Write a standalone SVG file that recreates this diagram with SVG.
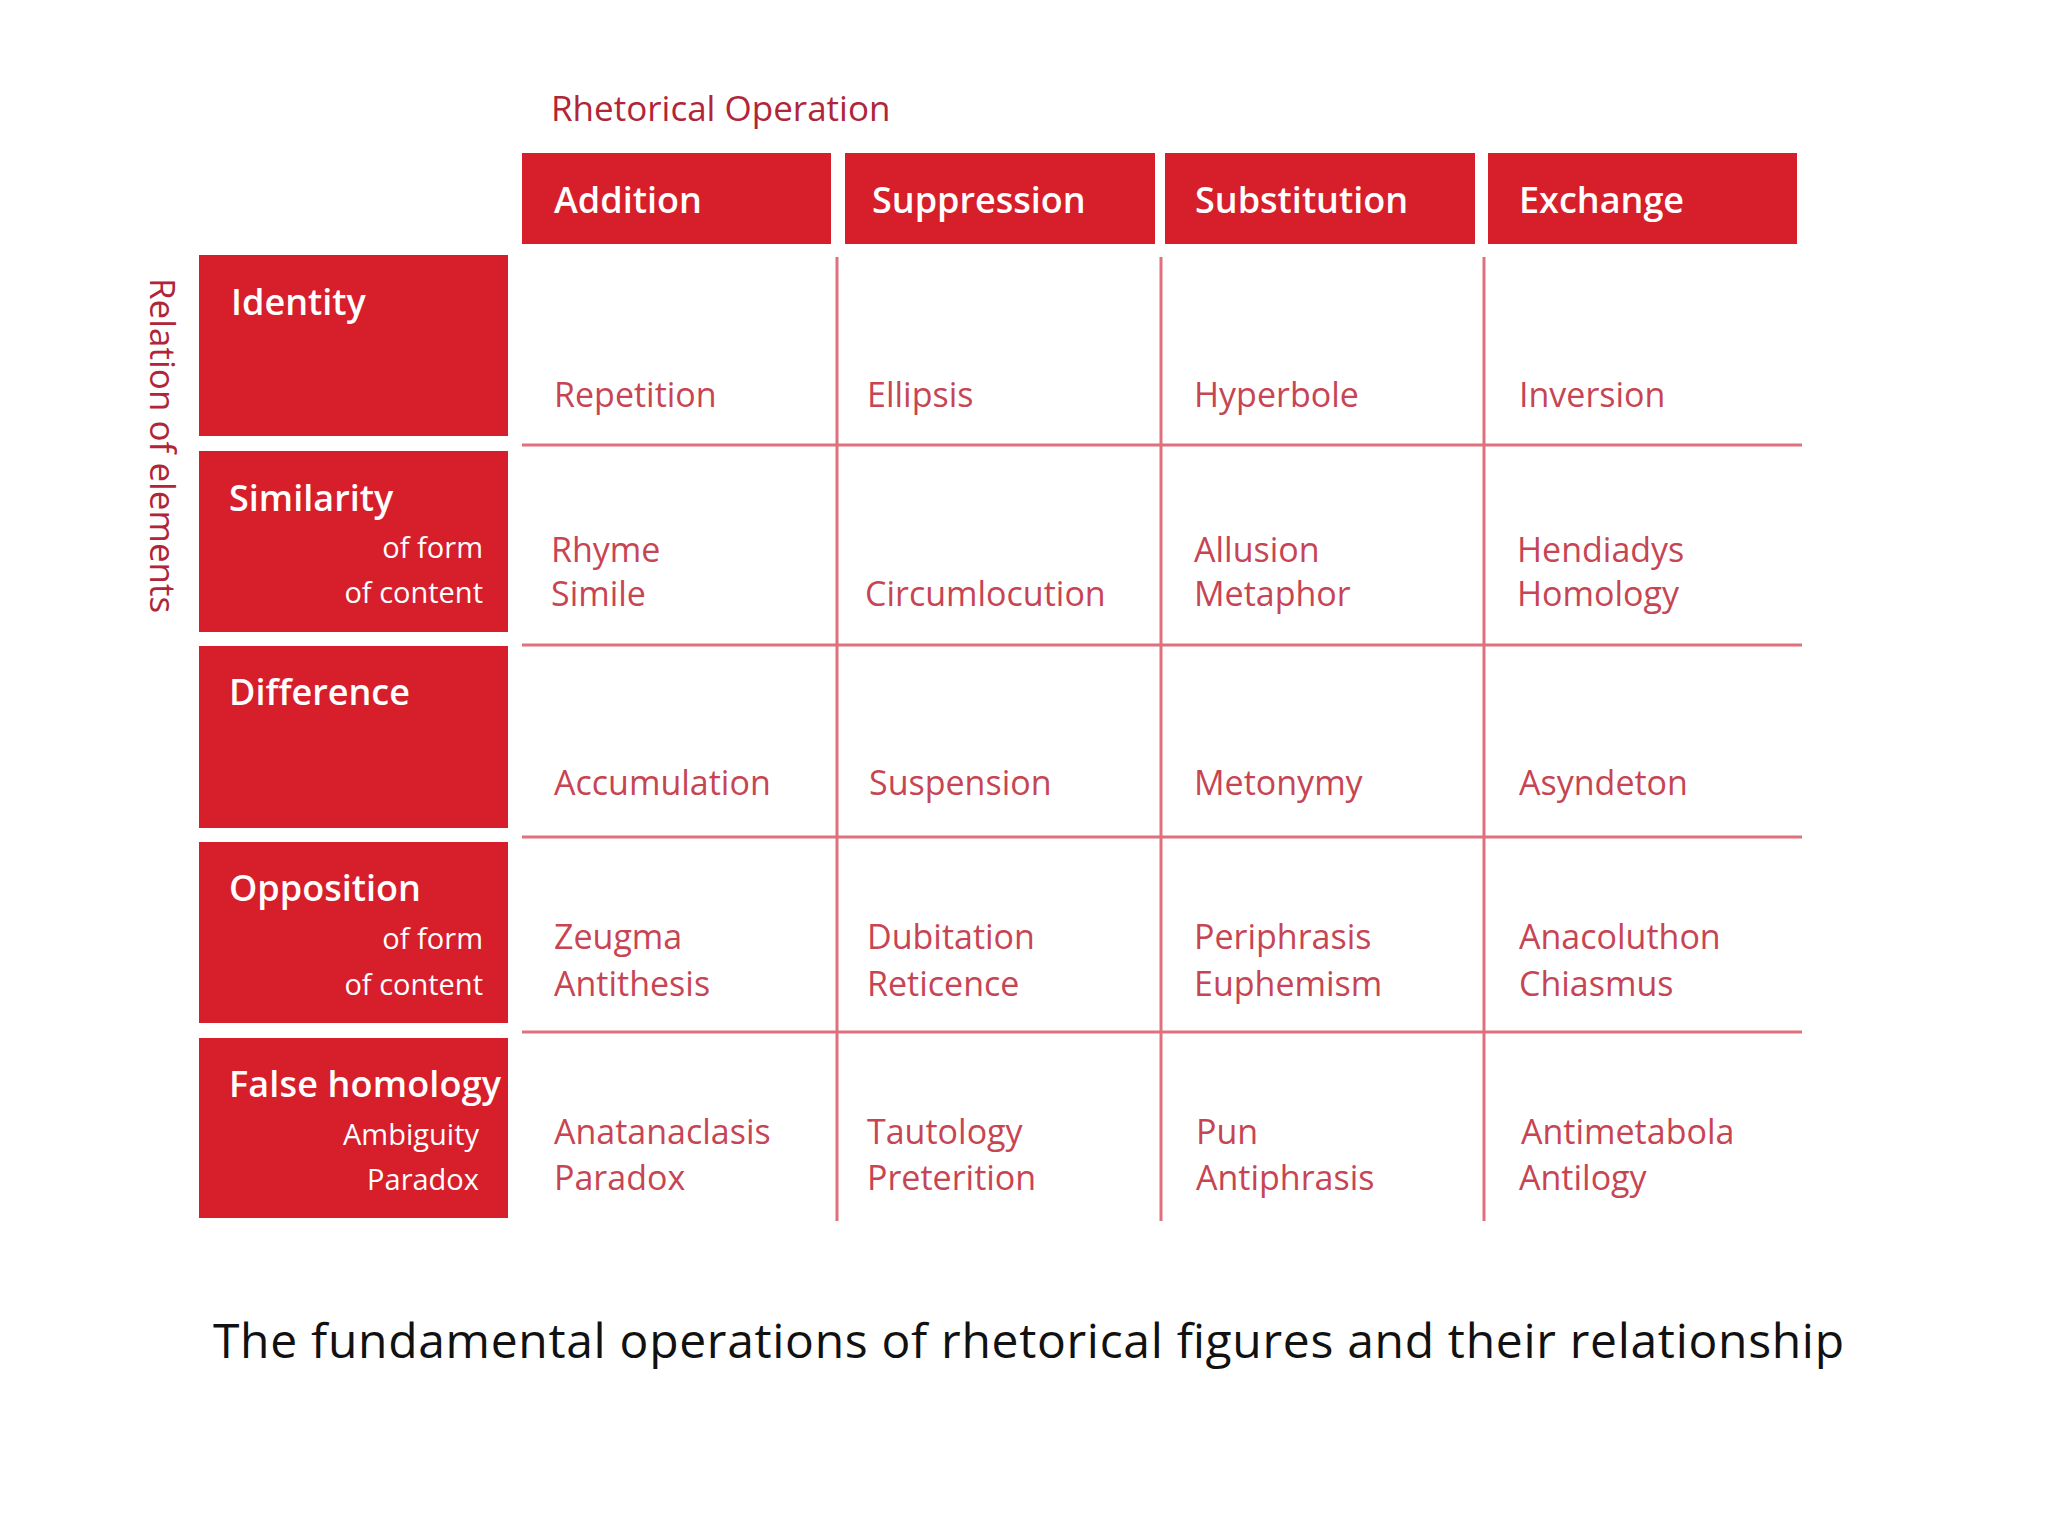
<svg xmlns="http://www.w3.org/2000/svg" width="2048" height="1536" viewBox="0 0 2048 1536">
<style>
.box{fill:#d71e2b}
.hd{font-family:"Open Sans",sans-serif;font-size:36px;font-weight:600;fill:#fff}
.sub{font-family:"Open Sans",sans-serif;font-size:29px;fill:#fff;text-anchor:end}
.cell{font-family:"Open Sans",sans-serif;font-size:34px;fill:#c74553}
.ln{stroke:#e0707c;stroke-width:3}
.axis{font-family:"Open Sans",sans-serif;font-size:35px;fill:#b02538}
</style>
<rect width="2048" height="1536" fill="#fff"/>
<text class="axis" x="551" y="121">Rhetorical Operation</text>
<text class="axis" transform="translate(150,278) rotate(90)">Relation of elements</text>
<g id="col-addition"><rect class="box" x="522" y="153" width="309" height="91"/><text class="hd" x="554" y="213">Addition</text></g>
<g id="col-suppression"><rect class="box" x="845" y="153" width="310" height="91"/><text class="hd" x="872" y="213">Suppression</text></g>
<g id="col-substitution"><rect class="box" x="1165" y="153" width="310" height="91"/><text class="hd" x="1195" y="213">Substitution</text></g>
<g id="col-exchange"><rect class="box" x="1488" y="153" width="309" height="91"/><text class="hd" x="1519" y="213">Exchange</text></g>
<g id="row-identity"><rect class="box" x="199" y="255" width="309" height="181"/><text class="hd" x="231" y="315">Identity</text></g>
<g id="row-similarity"><rect class="box" x="199" y="451" width="309" height="181"/><text class="hd" x="229" y="511">Similarity</text><text class="sub" x="483" y="558">of form</text><text class="sub" x="483" y="603">of content</text></g>
<g id="row-difference"><rect class="box" x="199" y="646" width="309" height="182"/><text class="hd" x="229" y="705">Difference</text></g>
<g id="row-opposition"><rect class="box" x="199" y="842" width="309" height="181"/><text class="hd" x="229" y="901">Opposition</text><text class="sub" x="483" y="949">of form</text><text class="sub" x="483" y="995">of content</text></g>
<g id="row-false"><rect class="box" x="199" y="1038" width="309" height="180"/><text class="hd" x="229" y="1097" textLength="272">False homology</text><text class="sub" x="479" y="1145">Ambiguity</text><text class="sub" x="479" y="1190">Paradox</text></g>
<g id="grid">
<line class="ln" x1="522" y1="445" x2="1802" y2="445"/>
<line class="ln" x1="522" y1="645" x2="1802" y2="645"/>
<line class="ln" x1="522" y1="837" x2="1802" y2="837"/>
<line class="ln" x1="522" y1="1032" x2="1802" y2="1032"/>
<line class="ln" x1="837" y1="257" x2="837" y2="1221"/>
<line class="ln" x1="1161" y1="257" x2="1161" y2="1221"/>
<line class="ln" x1="1484" y1="257" x2="1484" y2="1221"/>
</g>
<g id="cells">
<text class="cell" x="554" y="407">Repetition</text>
<text class="cell" x="867" y="407">Ellipsis</text>
<text class="cell" x="1194" y="407">Hyperbole</text>
<text class="cell" x="1519" y="407">Inversion</text>
<text class="cell" x="551" y="562">Rhyme</text><text class="cell" x="551" y="606">Simile</text>
<text class="cell" x="865" y="606">Circumlocution</text>
<text class="cell" x="1194" y="562">Allusion</text><text class="cell" x="1194" y="606">Metaphor</text>
<text class="cell" x="1517" y="562">Hendiadys</text><text class="cell" x="1517" y="606">Homology</text>
<text class="cell" x="554" y="795">Accumulation</text>
<text class="cell" x="869" y="795">Suspension</text>
<text class="cell" x="1194" y="795">Metonymy</text>
<text class="cell" x="1519" y="795">Asyndeton</text>
<text class="cell" x="554" y="949">Zeugma</text><text class="cell" x="554" y="996">Antithesis</text>
<text class="cell" x="867" y="949">Dubitation</text><text class="cell" x="867" y="996">Reticence</text>
<text class="cell" x="1194" y="949">Periphrasis</text><text class="cell" x="1194" y="996">Euphemism</text>
<text class="cell" x="1519" y="949">Anacoluthon</text><text class="cell" x="1519" y="996">Chiasmus</text>
<text class="cell" x="554" y="1144">Anatanaclasis</text><text class="cell" x="554" y="1190">Paradox</text>
<text class="cell" x="867" y="1144">Tautology</text><text class="cell" x="867" y="1190">Preterition</text>
<text class="cell" x="1196" y="1144">Pun</text><text class="cell" x="1196" y="1190">Antiphrasis</text>
<text class="cell" x="1521" y="1144">Antimetabola</text><text class="cell" x="1519" y="1190">Antilogy</text>
</g>
<text x="213" y="1358" font-family="Open Sans, sans-serif" font-size="48" fill="#111" textLength="1631">The fundamental operations of rhetorical figures and their relationship</text>
</svg>
